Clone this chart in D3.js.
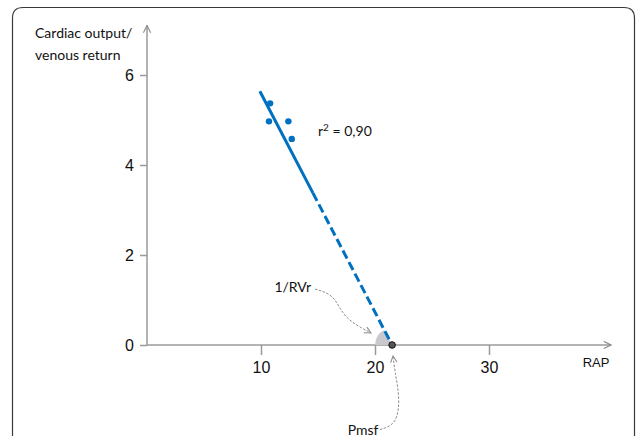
<!DOCTYPE html>
<html>
<head>
<meta charset="utf-8">
<script src="https://cdn.jsdelivr.net/npm/d3@7"></script>
<style>
  body { margin: 0; background: #fff; }
  .lbl { font-family: Lato, "Open Sans", sans-serif; font-size: 14px; fill: #111; }
</style>
</head>
<body>
<div id="chart"></div>
<script>
// measured points (RAP, cardiac output)
const rap = [10.8, 10.7, 12.4, 12.7];
const co = [5.37, 4.97, 4.97, 4.58];

// regression line: start, end of solid part, intercept (Pmsf)
const fitRap = [9.9, 14.55, 21.5];
const fitCo = [5.64, 3.38, 0];

const xTicks = [10, 20, 30];
const yTicks = [0, 2, 4, 6];

// annotation paths in data units
const rvrCurve = [[14.74, 1.244], [16.49, 1.111], [17.19, 0.6], [19.65, 0.267]];
const pmsfCurve = [[20.44, -1.88], [21.93, -1.76], [22.19, -1.18], [21.75, -0.6], [21.58, -0.244]];

const width = 636, height = 436;

const svg = d3.select("#chart")
  .append("svg")
  .attr("width", width)
  .attr("height", height);

const x = d3.scaleLinear().domain([0, 30]).range([147, 489]);
const y = d3.scaleLinear().domain([0, 6]).range([345, 75]);

// frame
svg.append("path")
  .attr("d", "M12.5,440 L12.5,18 Q12.5,7.5 23,7.5 L624,7.5 Q634.5,7.5 634.5,18 L634.5,440")
  .attr("fill", "none")
  .attr("stroke", "#3a3a3a")
  .attr("stroke-width", 1.2);

const defs = svg.append("defs");
function chevron(id, color, size) {
  defs.append("marker")
    .attr("id", id)
    .attr("viewBox", "0 0 10 10")
    .attr("refX", 9).attr("refY", 5)
    .attr("markerUnits", "userSpaceOnUse")
    .attr("markerWidth", size).attr("markerHeight", size)
    .attr("orient", "auto")
    .append("path")
    .attr("d", "M1,1 L9,5 L1,9")
    .attr("fill", "none")
    .attr("stroke", color)
    .attr("stroke-width", 1.3);
}
chevron("axisArrow", "#8c8c8c", 9);
chevron("annArrow", "#8c8c8c", 8);

// axis lines with arrow heads
svg.append("line")
  .attr("x1", x(0)).attr("y1", y(0))
  .attr("x2", x(40.7)).attr("y2", y(0))
  .attr("stroke", "#9a9a9a").attr("stroke-width", 1.5)
  .attr("marker-end", "url(#axisArrow)");
svg.append("line")
  .attr("x1", x(0)).attr("y1", y(0))
  .attr("x2", x(0)).attr("y2", y(7.1))
  .attr("stroke", "#9a9a9a").attr("stroke-width", 1.5)
  .attr("marker-end", "url(#axisArrow)");

const xAxis = svg.append("g")
  .attr("transform", `translate(0,${y(0)})`)
  .call(d3.axisBottom(x).tickValues(xTicks).tickFormat(d3.format("d")).tickSize(10).tickPadding(7));
const yAxis = svg.append("g")
  .attr("transform", `translate(${x(0)},0)`)
  .call(d3.axisLeft(y).tickValues(yTicks).tickFormat(d3.format("d")).tickSize(7).tickPadding(6));
[xAxis, yAxis].forEach(g => {
  g.select(".domain").remove();
  g.attr("font-family", "'Liberation Sans', Arial, sans-serif").attr("font-size", 16);
  g.selectAll(".tick line").attr("stroke", "#9a9a9a").attr("stroke-width", 1.5);
  g.selectAll(".tick text").attr("fill", "#111");
});

// angle wedge at Pmsf
const px = x(fitRap[2]), py = y(fitCo[2]);
const lineAng = Math.atan2(x(fitRap[1]) - px, py - y(fitCo[1]));
svg.append("path")
  .attr("transform", `translate(${px},${py})`)
  .attr("d", d3.arc()({ innerRadius: 0, outerRadius: 17, startAngle: -Math.PI / 2, endAngle: lineAng }))
  .attr("fill", "#c9c9cd");

// regression line
const blue = "#0070c0";
svg.append("line")
  .attr("x1", x(fitRap[0])).attr("y1", y(fitCo[0]))
  .attr("x2", x(fitRap[1])).attr("y2", y(fitCo[1]))
  .attr("stroke", blue).attr("stroke-width", 3);
svg.append("line")
  .attr("x1", x(fitRap[1])).attr("y1", y(fitCo[1]))
  .attr("x2", x(fitRap[2])).attr("y2", y(fitCo[2]))
  .attr("stroke", blue).attr("stroke-width", 3)
  .attr("stroke-dasharray", "9,4");

// data points
svg.selectAll("circle.pt")
  .data(rap.map((r, i) => ({ r, c: co[i] })))
  .enter()
  .append("circle")
  .attr("class", "pt")
  .attr("cx", d => x(d.r))
  .attr("cy", d => y(d.c))
  .attr("r", 3.2)
  .attr("fill", blue);

// Pmsf point
svg.append("circle")
  .attr("cx", px).attr("cy", py)
  .attr("r", 3.3)
  .attr("fill", "#555")
  .attr("stroke", "#111")
  .attr("stroke-width", 1);

// annotation curves
const curve = d3.line()
  .x(d => x(d[0]))
  .y(d => y(d[1]))
  .curve(d3.curveBasis);
[rvrCurve, pmsfCurve].forEach(c => {
  svg.append("path")
    .attr("d", curve(c))
    .attr("fill", "none")
    .attr("stroke", "#8c8c8c")
    .attr("stroke-width", 1)
    .attr("stroke-dasharray", "2.5,1.5")
    .attr("marker-end", "url(#annArrow)");
});

// labels
svg.append("text").attr("class", "lbl")
  .attr("x", 35).attr("y", 38).text("Cardiac output/");
svg.append("text").attr("class", "lbl")
  .attr("x", 35).attr("y", 60).text("venous return");
svg.append("text").attr("class", "lbl")
  .attr("x", 318).attr("y", 136).html("r<tspan font-size='10' dy='-5'>2</tspan><tspan dy='5'> = 0,90</tspan>");
svg.append("text").attr("class", "lbl")
  .attr("x", x(14.4)).attr("y", y(1.29)).attr("dy", "0.35em")
  .attr("text-anchor", "end").text("1/RVr");
svg.append("text").attr("class", "lbl")
  .attr("x", x(20.3)).attr("y", y(-1.88)).attr("dy", "0.35em")
  .attr("text-anchor", "end").text("Pmsf");
svg.append("text")
  .attr("x", 596).attr("y", 362).attr("dy", "0.35em")
  .attr("text-anchor", "middle")
  .style("font-family", "'Liberation Sans', Arial, sans-serif")
  .style("font-size", "13px")
  .attr("fill", "#111")
  .text("RAP");
</script>
</body>
</html>
